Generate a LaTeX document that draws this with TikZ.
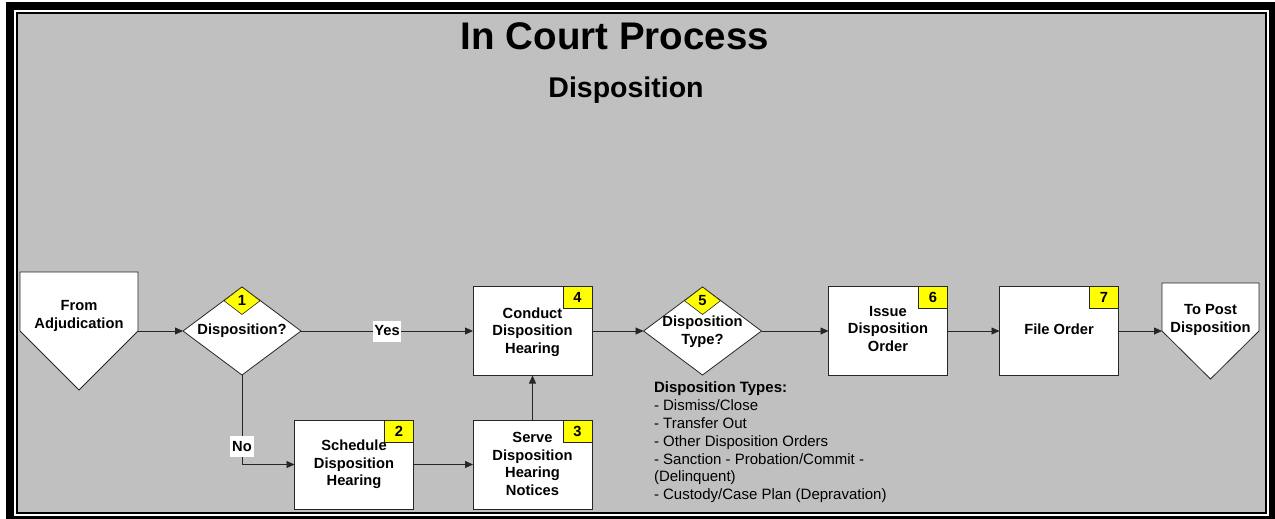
\documentclass[tikz,border=0pt]{standalone}
\usepackage{fontspec}
\setmainfont{Liberation Sans}
\usetikzlibrary{arrows.meta,shapes.geometric,calc}
\definecolor{bggray}{HTML}{C0C0C0}
\definecolor{markyellow}{HTML}{FFFF00}
\begin{document}
\begin{tikzpicture}[x=1pt,y=-1pt,
  every node/.style={inner sep=0pt, outer sep=0pt},
  txt/.style={font=\fontsize{14.7}{17.6}\selectfont\bfseries, align=center},
  shapeline/.style={draw=black!85, line width=0.8pt},
  procbox/.style={shapeline, fill=white, minimum width=119pt, minimum height=89pt},
  decbox/.style={diamond, shapeline, fill=white, minimum width=118pt, minimum height=88pt},
  numbox/.style={draw=black!85, line width=0.6pt, fill=markyellow, minimum width=29pt, minimum height=22pt, anchor=north east, font=\fontsize{14.7}{17.6}\selectfont\bfseries},
  numdia/.style={diamond, draw=black!85, line width=0.6pt, fill=markyellow, minimum width=36pt, minimum height=27.5pt, anchor=north, font=\fontsize{14.7}{17.6}\selectfont\bfseries},
  conn/.style={draw=black!85, line width=0.8pt, -{Triangle[length=8pt,width=7pt]}},
  lbl/.style={fill=white, font=\fontsize{14.7}{17.6}\selectfont\bfseries, minimum height=21pt, inner xsep=1.8pt}
]
\useasboundingbox (0,0) rectangle (1275,519);
% frame
\fill[black] (6,2) rectangle (1275,519);
\fill[white] (14,10) rectangle (1269,515.5);
\fill[black] (16,12) rectangle (1267,513.7);
\fill[bggray] (18,14) rectangle (1265,511.7);

% titles
\node[font=\fontsize{38.5}{46}\selectfont\bfseries, anchor=base] (title) at (615,49.5) {In Court Process};
\node[font=\fontsize{28.5}{34}\selectfont\bfseries, anchor=base] (subtitle) at (626,98) {Disposition};

% off-page connectors
\node[minimum width=118pt, minimum height=59pt] (from) at (79,301.5) {};
\draw[shapeline, fill=white] (from.north west) -- (from.north east) -- (from.south east) -- ($(from.south)+(0,59)$) -- (from.south west) -- cycle;
\node[minimum width=97pt, minimum height=48pt] (topost) at (1210.5,307) {};
\draw[shapeline, fill=white] (topost.north west) -- (topost.north east) -- (topost.south east) -- ($(topost.south)+(0,48)$) -- (topost.south west) -- cycle;

% process boxes and decisions
\node[decbox] (d1) at (242,331) {};
\node[procbox] (b2) at (354,464.5) {};
\node[procbox] (b3) at (532.5,464.5) {};
\node[procbox] (b4) at (532.5,331) {};
\node[decbox] (d5) at (702.5,331) {};
\node[procbox] (b6) at (888,331) {};
\node[procbox] (b7) at (1059,331) {};

% number markers
\node[numdia] (n1) at (d1.north) {1};
\node[numbox] (n2) at (b2.north east) {2};
\node[numbox] (n3) at (b3.north east) {3};
\node[numbox] (n4) at (b4.north east) {4};
\node[numdia] (n5) at (d5.north) {5};
\node[numbox] (n6) at (b6.north east) {6};
\node[numbox] (n7) at (b7.north east) {7};

% texts
\node[txt] (tfrom) at (79,316) {From\\Adjudication};
\node[txt] (t1) at (242,330.5) {Disposition?};
\node[txt] (t2) at (354,464.3) {Schedule\\Disposition\\Hearing};
\node[txt] (t3) at (532.5,464) {Serve\\Disposition\\Hearing\\Notices};
\node[txt] (t4) at (532.5,332) {Conduct\\Disposition\\Hearing};
\node[txt] (t5) at (702.5,331.5) {Disposition\\Type?};
\node[txt] (t6) at (888,329) {Issue\\Disposition\\Order};
\node[txt] (t7) at (1059,329.7) {File Order};
\node[txt] (tto) at (1210.5,320) {To Post\\Disposition};

\node[anchor=north west, align=left, font=\fontsize{15}{17.8}\selectfont] (types) at (654,382)
  {\textbf{Disposition Types:}\\- Dismiss/Close\\- Transfer Out\\- Other Disposition Orders\\- Sanction - Probation/Commit -\\(Delinquent)\\- Custody/Case Plan (Depravation)};

% connectors
\draw[conn] (from.south east) -- (d1.west);
\draw[conn] (d1.east) -- node[lbl] (yes) {Yes} (b4.west);
\draw[conn] (d1.south) |- node[lbl, pos=0.4] (no) {No} (b2.west);
\draw[conn] (b2.east) -- (b3.west);
\draw[conn] (b3.north) -- (b4.south);
\draw[conn] (b4.east) -- (d5.west);
\draw[conn] (d5.east) -- (b6.west);
\draw[conn] (b6.east) -- (b7.west);
\draw[conn] (b7.east) -- (topost.south west);
\end{tikzpicture}
\end{document}
